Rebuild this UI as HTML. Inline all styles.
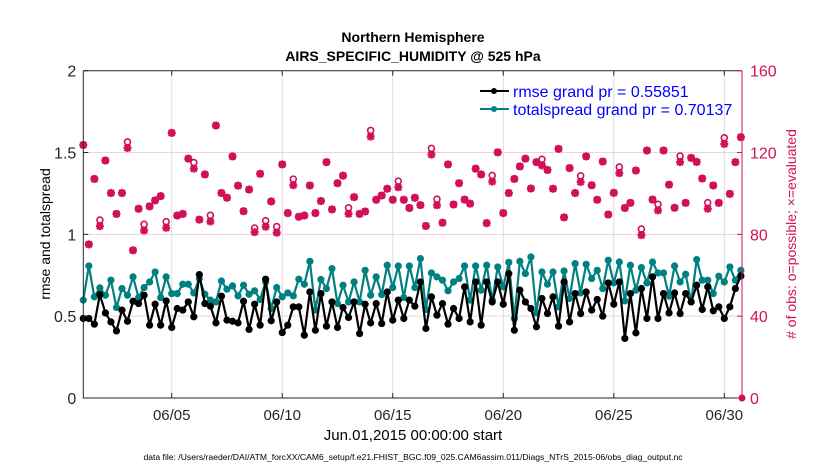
<!DOCTYPE html>
<html><head><meta charset="utf-8"><style>
body{margin:0;background:#fff;}
svg text{font-family:"Liberation Sans",Arial,sans-serif;}
</style></head><body>
<svg id="chart" width="830" height="470" viewBox="0 0 830 470" xmlns="http://www.w3.org/2000/svg">
<rect width="830" height="470" fill="#fff"/>
<g id="grid"></g>
<g id="series"></g>
<g id="axes"></g>
<text x="413" y="42" text-anchor="middle" font-size="14" font-weight="bold">Northern Hemisphere</text>
<text x="413" y="61" text-anchor="middle" font-size="14" font-weight="bold">AIRS_SPECIFIC_HUMIDITY @ 525 hPa</text>
<text transform="translate(50,234) rotate(-90)" text-anchor="middle" font-size="14">rmse and totalspread</text>
<text transform="translate(796,234) rotate(-90)" text-anchor="middle" font-size="14" fill="#d0105a">#&#160;of obs: o=possible; &#215;=evaluated</text>
<text x="413" y="440" text-anchor="middle" font-size="15">Jun.01,2015 00:00:00 start</text>
<text x="413" y="460" text-anchor="middle" font-size="8.6">data file: /Users/raeder/DAI/ATM_forcXX/CAM6_setup/f.e21.FHIST_BGC.f09_025.CAM6assim.011/Diags_NTrS_2015-06/obs_diag_output.nc</text>
<g>
<line x1="480" y1="91" x2="509" y2="91" stroke="#000" stroke-width="2"/><circle cx="494" cy="91" r="3" fill="#000"/>
<text x="513" y="97" font-size="16" fill="#0000ff">rmse grand pr = 0.55851</text>
<line x1="480" y1="109" x2="509" y2="109" stroke="#008080" stroke-width="2"/><circle cx="494" cy="109" r="3" fill="#008080"/>
<text x="513" y="115" font-size="16" fill="#0000ff">totalspread grand pr = 0.70137</text>
</g>
</svg>
<script>
const rmse=[0.486,0.486,0.451,0.632,0.520,0.465,0.410,0.537,0.469,0.591,0.577,0.628,0.445,0.573,0.445,0.593,0.431,0.547,0.537,0.587,0.496,0.754,0.577,0.561,0.459,0.622,0.476,0.469,0.459,0.591,0.419,0.573,0.445,0.726,0.472,0.587,0.400,0.445,0.557,0.557,0.384,
0.648,0.414,0.638,0.439,0.587,0.431,0.553,0.492,0.587,0.394,0.573,0.459,0.577,0.455,0.648,0.476,0.598,0.486,0.598,0.561,0.709,0.425,0.618,0.506,0.577,0.451,0.547,0.486,0.679,0.465,0.709,0.445,0.709,0.587,0.709,0.573,0.760,0.414,0.659,
0.587,0.547,0.435,0.608,0.516,0.618,0.439,0.709,0.465,0.638,0.516,0.648,0.537,0.602,0.500,0.703,0.573,0.709,0.364,0.638,0.398,0.669,0.486,0.740,0.486,0.638,0.520,0.642,0.516,0.638,0.587,0.689,0.541,0.679,0.533,0.557,0.486,0.557,0.669,0.746];
const spread=[0.598,0.807,0.618,0.673,0.628,0.720,0.553,0.669,0.628,0.740,0.614,0.675,0.709,0.770,0.614,0.740,0.638,0.638,0.695,0.695,0.642,0.730,0.634,0.598,0.587,0.715,0.665,0.685,0.624,0.689,0.634,0.655,0.602,0.709,0.547,0.675,0.618,0.642,0.624,0.726,0.695,
0.835,0.537,0.724,0.669,0.791,0.577,0.689,0.587,0.709,0.587,0.780,0.628,0.740,0.632,0.811,0.675,0.807,0.614,0.807,0.675,0.852,0.541,0.764,0.740,0.720,0.655,0.709,0.730,0.807,0.598,0.807,0.659,0.811,0.598,0.801,0.679,0.829,0.486,0.835,
0.760,0.862,0.520,0.770,0.695,0.770,0.557,0.776,0.608,0.821,0.642,0.817,0.730,0.780,0.669,0.842,0.703,0.831,0.593,0.811,0.659,0.797,0.703,0.831,0.764,0.764,0.622,0.807,0.709,0.756,0.587,0.846,0.720,0.720,0.638,0.744,0.709,0.801,0.720,0.780];
const evaluated=[123.7,75.1,107.1,84.0,116.1,100.2,90.0,100.2,122.2,72.2,92.5,81.9,93.7,96.6,98.7,83.2,129.6,89.2,90.0,117.0,112.1,87.2,109.3,86.3,133.2,100.2,97.9,118.1,103.8,91.3,101.9,81.1,109.6,83.7,96.1,80.8,114.2,90.4,104.0,88.6,89.2,
103.9,90.4,96.3,115.3,92.2,105.0,108.7,90.0,98.2,90.0,91.2,127.8,96.9,99.0,102.3,96.9,103.0,96.9,92.9,97.9,94.3,84.1,119.0,94.2,85.7,114.2,94.6,105.0,97.0,95.0,112.1,109.3,85.5,105.8,120.1,90.4,100.2,107.1,113.2,
117.0,102.4,115.3,113.7,111.5,102.3,121.8,88.3,112.4,100.2,105.6,118.1,104.0,96.9,115.6,89.7,100.3,109.9,92.9,95.4,111.2,79.6,121.0,97.0,91.7,121.0,104.3,93.0,115.3,95.4,117.4,115.4,107.3,92.5,103.9,95.4,124.2,99.8,115.3,127.5];
const possIdx=[3,8,11,15,20,23,31,33,35,38,48,52,57,63,64,74,83,90,97,101,104,108,113,116];
const possAdd=[3,3,3,3,3,3,2,3,3,3,3,3,3,3,3,3,3,3,3,3,3,3,3,3];
const dayTicks=[5,10,15,20,25,30];
const dayLabels=["06/05","06/10","06/15","06/20","06/25","06/30"];
const leftTicks=[0,0.5,1,1.5,2];
const leftLabels=["0","0.5","1","1.5","2"];
const rightTicks=[0,40,80,120,160];
const rightLabels=["0","40","80","120","160"];
const NS='http://www.w3.org/2000/svg';
const X0=83.3,X1=742,T0=0,T1=29.8,YT=70.7,YB=398;
function sx(t){return X0+(t-T0)/(T1-T0)*(X1-X0);}
function dayX(d){return sx(d-1);}
function syL(v){return YB-v/2*(YB-YT);}
function syR(v){return YB-v/160*(YB-YT);}
function mk(tag,attrs,parent){const e=document.createElementNS(NS,tag);for(const k in attrs)e.setAttribute(k,attrs[k]);parent.appendChild(e);return e;}
const grid=document.getElementById('grid'),ser=document.getElementById('series'),ax=document.getElementById('axes');
dayTicks.forEach((d,i)=>{const l=mk('line',{x1:dayX(d),x2:dayX(d),y1:YT,y2:YB,stroke:'#dcdcdc','stroke-width':1},grid);

});
[40,80,120].forEach(v=>{const l=mk('line',{x1:X0,x2:X1,y1:syR(v),y2:syR(v),stroke:'#f5cddc','stroke-width':1},grid);

});
const times=rmse.map((_,i)=>i*0.25);
const possible=evaluated.slice();possIdx.forEach((k,j)=>{possible[k]=evaluated[k]+possAdd[j];});
const red='#d0105a';
evaluated.forEach((v,i)=>{const x=sx(times[i]);
const c=mk('circle',{cx:x,cy:syR(possible[i]),r:3,fill:'none',stroke:red,'stroke-width':1.6},ser);


const y=syR(v);
const s=mk('path',{d:`M${x-4},${y}H${x+4}M${x},${y-4}V${y+4}M${x-3},${y-3}L${x+3},${y+3}M${x-3},${y+3}L${x+3},${y-3}`,stroke:red,'stroke-width':2.2,fill:'none'},ser);


const d=mk('circle',{cx:x,cy:y,r:2.8,fill:red},ser);

});
function line(vals,col,name){const p=mk('polyline',{points:vals.map((v,i)=>sx(times[i])+','+syL(v)).join(' '),fill:'none',stroke:col,'stroke-width':2.2},ser);


vals.forEach((v,i)=>{const c=mk('circle',{cx:sx(times[i]),cy:syL(v),r:3.6,fill:col},ser);

});}
line(spread,'#008080','totalspread');
line(rmse,'#000000','rmse');
const z=mk('circle',{cx:X1,cy:YB,r:3.5,fill:red},ser);


const ab=mk('path',{d:`M${X0},${YT}H${X1}M${X0},${YT}V${YB}H${X1}`,stroke:'#262626','stroke-width':1,fill:'none'},ax);


const rs=mk('line',{x1:X1,x2:X1,y1:YT,y2:YB,stroke:red,'stroke-width':1},ax);


dayTicks.forEach((d,i)=>{mk('line',{x1:dayX(d),x2:dayX(d),y1:YB,y2:YB-5,stroke:'#262626'},ax);mk('line',{x1:dayX(d),x2:dayX(d),y1:YT,y2:YT+5,stroke:'#262626'},ax);
const t=mk('text',{x:dayX(d),y:YB+22,'text-anchor':'middle','font-size':15,fill:'#262626'},ax);t.textContent=dayLabels[i];

});
leftTicks.forEach((v,i)=>{mk('line',{x1:X0,x2:X0+5,y1:syL(v),y2:syL(v),stroke:'#262626'},ax);
const t=mk('text',{x:X0-7,y:syL(v)+6,'text-anchor':'end','font-size':16,fill:'#262626'},ax);t.textContent=leftLabels[i];

});
rightTicks.forEach((v,i)=>{mk('line',{x1:X1,x2:X1-5,y1:syR(v),y2:syR(v),stroke:red},ax);
const t=mk('text',{x:X1+8,y:syR(v)+6,'font-size':16,fill:red},ax);t.textContent=rightLabels[i];

});
</script>
</body></html>
